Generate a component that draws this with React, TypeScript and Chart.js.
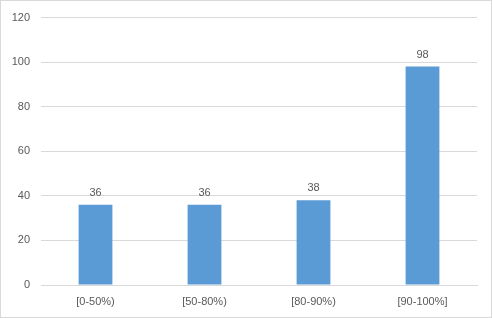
import React, { useEffect, useRef } from "react";
import { Chart, registerables } from "chart.js";

Chart.register(...registerables);

const categories = ["[0-50%)", "[50-80%)", "[80-90%)", "[90-100%]"];
const values = [36, 36, 38, 98];
const yTicks = [0, 20, 40, 60, 80, 100, 120];

const FONT = "'Liberation Sans', Arial, sans-serif";
const TEXT = "#595959";

const valueLabels = {
  id: "valueLabels",
  afterDatasetsDraw(chart: any) {
    const ctx = chart.ctx;
    const meta = chart.getDatasetMeta(0);
    ctx.save();
    ctx.font = `11px ${FONT}`;
    ctx.fillStyle = TEXT;
    ctx.textAlign = "center";
    ctx.textBaseline = "alphabetic";
    meta.data.forEach((bar: any, i: number) => {
      ctx.fillText(String(values[i]), bar.x, bar.y - 9);
    });
    ctx.restore();
  },
};

const frame = {
  id: "frame",
  beforeDraw(chart: any) {
    const ctx = chart.ctx;
    ctx.save();
    ctx.fillStyle = "#ffffff";
    ctx.fillRect(0, 0, chart.width, chart.height);
    ctx.strokeStyle = "#d9d9d9";
    ctx.lineWidth = 1;
    ctx.strokeRect(0.5, 0.5, chart.width - 2, chart.height - 1);
    ctx.restore();
  },
};

export default function App() {
  const ref = useRef<HTMLCanvasElement>(null);
  useEffect(() => {
    document.body.style.margin = "0";
    const chart = new Chart(ref.current!, {
      type: "bar",
      data: {
        labels: categories,
        datasets: [
          {
            data: values,
            backgroundColor: "#5B9BD5",
            categoryPercentage: 1,
            barPercentage: 0.31,
          },
        ],
      },
      options: {
        animation: false,
        responsive: false,
        devicePixelRatio: 1,
        layout: { padding: { top: 15, right: 16, left: 0, bottom: 0 } },
        plugins: { legend: { display: false }, tooltip: { enabled: false } },
        scales: {
          x: {
            grid: { display: false, drawTicks: false },
            border: { display: true, color: "#d9d9d9" },
            ticks: { color: TEXT, font: { family: FONT, size: 11 }, padding: 10 },
            afterFit: (s: any) => {
              s.height = 33;
            },
          },
          y: {
            min: 0,
            max: 120,
            afterBuildTicks: (s: any) => {
              s.ticks = yTicks.map((v) => ({ value: v }));
            },
            grid: { color: "#d9d9d9", drawTicks: false },
            border: { display: false },
            ticks: { color: TEXT, font: { family: FONT, size: 11 }, padding: 11 },
            afterFit: (s: any) => {
              s.width = 41;
            },
          },
        },
      },
      plugins: [frame, valueLabels],
    });
    return () => chart.destroy();
  }, []);
  return (
    <div style={{ position: "absolute", left: 0, top: 0, width: 493, height: 318 }}>
      <canvas ref={ref} width={493} height={318} style={{ display: "block" }} />
    </div>
  );
}
